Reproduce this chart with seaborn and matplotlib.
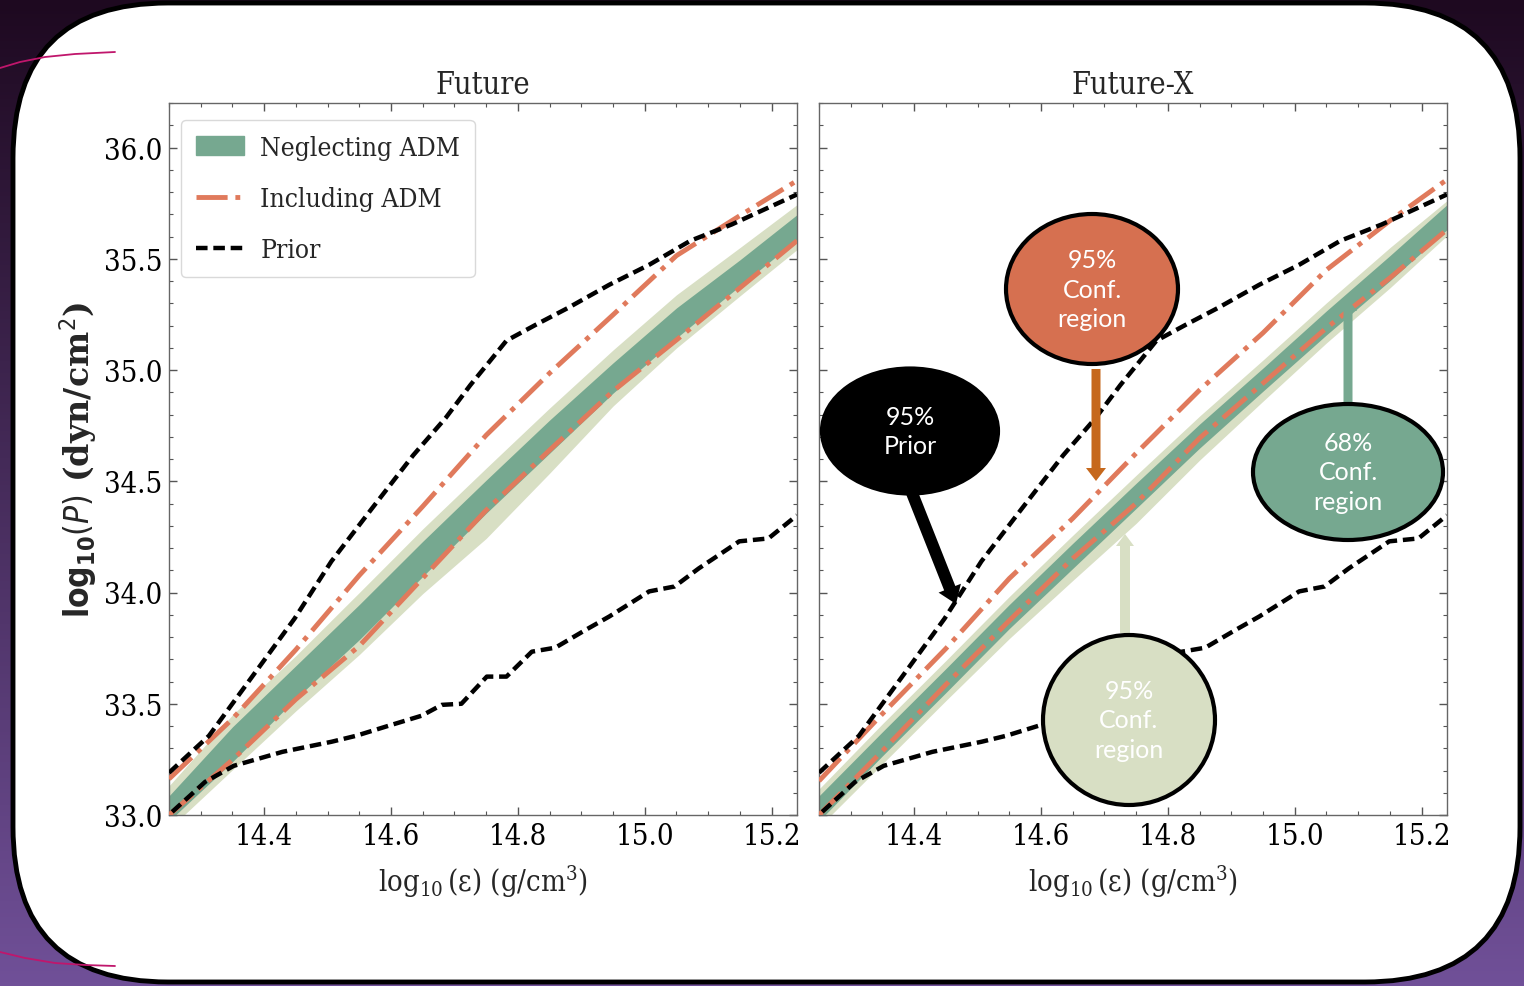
import numpy as np
import matplotlib
matplotlib.use("Agg")
import matplotlib.pyplot as plt
import seaborn as sns
from matplotlib.patches import Ellipse, FancyArrow, FancyBboxPatch, Patch
from matplotlib.lines import Line2D
from matplotlib.ticker import MultipleLocator, FormatStrFormatter

# ---------------------------------------------------------------- data
panel_titles = ["Future", "Future-X"]
eps_grid = [14.25, 14.35, 14.45, 14.55, 14.65, 14.75, 14.85, 14.95, 15.05, 15.15, 15.24]

# Future: neglecting ADM (68% and 95% bands)
fut_95_hi = [33.131, 33.450, 33.716, 34.000, 34.286, 34.559, 34.829, 35.090, 35.338, 35.550, 35.743]
fut_68_hi = [33.086, 33.396, 33.671, 33.946, 34.230, 34.505, 34.775, 35.032, 35.279, 35.495, 35.698]
fut_68_lo = [32.973, 33.239, 33.523, 33.788, 34.072, 34.356, 34.626, 34.896, 35.144, 35.378, 35.586]
fut_95_lo = [32.937, 33.203, 33.468, 33.721, 33.995, 34.243, 34.536, 34.838, 35.099, 35.333, 35.541]
# Future: including ADM (95% bounds)
fut_adm_hi = [33.162, 33.432, 33.743, 34.077, 34.387, 34.707, 34.986, 35.248, 35.514, 35.694, 35.851]
fut_adm_lo = [33.000, 33.248, 33.520, 33.760, 34.065, 34.370, 34.640, 34.905, 35.135, 35.369, 35.581]

# Future-X: neglecting ADM (68% and 95% bands)
fx_95_hi = [33.117, 33.410, 33.694, 33.982, 34.257, 34.527, 34.793, 35.045, 35.302, 35.550, 35.761]
fx_68_hi = [33.086, 33.374, 33.658, 33.946, 34.221, 34.491, 34.757, 35.009, 35.266, 35.514, 35.743]
fx_68_lo = [32.973, 33.266, 33.550, 33.838, 34.108, 34.378, 34.649, 34.905, 35.158, 35.401, 35.631]
fx_95_lo = [32.946, 33.230, 33.514, 33.793, 34.054, 34.311, 34.595, 34.860, 35.122, 35.369, 35.604]
# Future-X: including ADM (95% bounds)
fx_adm_hi = [33.153, 33.455, 33.748, 34.063, 34.333, 34.626, 34.910, 35.167, 35.450, 35.671, 35.856]
fx_adm_lo = [33.000, 33.288, 33.586, 33.874, 34.153, 34.401, 34.694, 34.941, 35.189, 35.414, 35.631]

# Prior 95% bounds (shared by both panels)
prior_hi_eps = [14.25, 14.313, 14.448, 14.506, 14.570, 14.635, 14.686, 14.725, 14.751,
                14.782, 14.828, 14.879, 14.944, 15.007, 15.072, 15.137, 15.240]
prior_hi = [33.19, 33.356, 33.883, 34.14, 34.378, 34.617, 34.784, 34.932, 35.023,
            35.132, 35.203, 35.279, 35.383, 35.473, 35.581, 35.654, 35.789]
prior_lo_eps = [14.255, 14.307, 14.352, 14.429, 14.506, 14.545, 14.596, 14.648, 14.680, 14.711,
                14.751, 14.782, 14.822, 14.859, 14.905, 14.944, 15.007, 15.047, 15.085, 15.149,
                15.195, 15.240]
prior_lo = [33.014, 33.149, 33.221, 33.284, 33.329, 33.356, 33.401, 33.446, 33.495, 33.500,
            33.622, 33.622, 33.734, 33.752, 33.829, 33.892, 34.005, 34.027, 34.108, 34.230,
            34.243, 34.347]

panels = [
    dict(hi95=fut_95_hi, hi68=fut_68_hi, lo68=fut_68_lo, lo95=fut_95_lo,
         adm_hi=fut_adm_hi, adm_lo=fut_adm_lo),
    dict(hi95=fx_95_hi, hi68=fx_68_hi, lo68=fx_68_lo, lo95=fx_95_lo,
         adm_hi=fx_adm_hi, adm_lo=fx_adm_lo),
]

legend_labels = ["Neglecting ADM", "Including ADM", "Prior"]
bubble_texts = ["95%\nConf.\nregion", "95%\nPrior", "68%\nConf.\nregion", "95%\nConf.\nregion"]

# ---------------------------------------------------------------- style
DARK = "#76a890"
LIGHT = "#d8dfc4"
ORANGE = "#e07a5c"
ARROW_ORANGE = "#c6681c"
ADM_LW = 3.5
PRIOR_LW = 3.2
PRIOR_DASH = (0, (2.6, 1.3))

sns.set_theme(style="ticks")
plt.rcParams.update({
    "font.family": ["DejaVu Serif"],
    "font.stretch": "condensed",
    "mathtext.fontset": "custom",
    "mathtext.rm": "DejaVu Serif:stretch=condensed",
    "mathtext.it": "DejaVu Serif:style=italic:stretch=condensed",
    "mathtext.bf": "DejaVu Serif:weight=bold:stretch=condensed",
    "axes.edgecolor": "#666666",
    "axes.linewidth": 1.0,
})

W, H = 1524, 987
fig = plt.figure(figsize=(W / 100, H / 100), dpi=100)

# ---------------------------------------------------------------- slide backdrop
bg = fig.add_axes([0, 0, 1, 1], zorder=0)
bg.set_xlim(0, W)
bg.set_ylim(H, 0)
bg.axis("off")
t = np.linspace(0, 1, 256)[:, None, None]
top_c = np.array([30, 9, 32]) / 255
bot_c = np.array([112, 80, 152]) / 255
bg.imshow(top_c + (bot_c - top_c) * t, extent=(0, W, H, 0), aspect="auto", zorder=0)
bg.add_patch(FancyBboxPatch((13, 4), 1507, 979, boxstyle="round,pad=0,rounding_size=155",
                            fc="white", ec="black", lw=3.5, zorder=1))
bg.plot([0, 20, 45, 75, 115], [69, 63, 58, 55, 53], color="#c0166c", lw=1.3, zorder=2)
bg.plot([0, 25, 55, 85, 115], [953, 959, 964, 966, 967], color="#c0166c", lw=1.3, zorder=2)

# ---------------------------------------------------------------- panels
ax_w, ax_h, ax_b = 628 / W, 712 / H, 171 / H
axes = [fig.add_axes([169 / W, ax_b, ax_w, ax_h], zorder=2),
        fig.add_axes([819 / W, ax_b, ax_w, ax_h], zorder=2)]

for i, (ax, p, title) in enumerate(zip(axes, panels, panel_titles)):
    ax.set_facecolor("white")
    ax.fill_between(eps_grid, p["lo95"], p["hi95"], color=LIGHT, lw=0, zorder=1)
    ax.fill_between(eps_grid, p["lo68"], p["hi68"], color=DARK, lw=0, zorder=2)
    for key in ("adm_hi", "adm_lo"):
        sns.lineplot(x=eps_grid, y=p[key], ax=ax, color=ORANGE, linewidth=ADM_LW,
                     linestyle="-.", sort=False, estimator=None, zorder=3)
    sns.lineplot(x=prior_hi_eps, y=prior_hi, ax=ax, color="black", linewidth=PRIOR_LW,
                 linestyle=PRIOR_DASH, sort=False, estimator=None, zorder=4)
    sns.lineplot(x=prior_lo_eps, y=prior_lo, ax=ax, color="black", linewidth=PRIOR_LW,
                 linestyle=PRIOR_DASH, sort=False, estimator=None, zorder=4)

    ax.set_xlim(14.25, 15.24)
    ax.set_ylim(33.0, 36.2)
    ax.xaxis.set_major_locator(MultipleLocator(0.2))
    ax.xaxis.set_minor_locator(MultipleLocator(0.05))
    ax.yaxis.set_major_locator(MultipleLocator(0.5))
    ax.yaxis.set_minor_locator(MultipleLocator(0.1))
    ax.xaxis.set_major_formatter(FormatStrFormatter("%.1f"))
    ax.yaxis.set_major_formatter(FormatStrFormatter("%.1f"))
    ax.tick_params(which="both", direction="in", top=True, right=True,
                   color="#555555", labelcolor="black")
    ax.tick_params(which="major", length=6, width=1.0, labelsize=21, pad=5)
    ax.tick_params(which="minor", length=3, width=0.8)
    if i == 1:
        ax.tick_params(labelleft=False)
    ax.set_title(title, fontsize=22, pad=7)
    ax.set_xlabel(r"$\log_{10}(\mathrm{ε})$ (g/cm$^3$)", fontsize=21, labelpad=9)
    ax.set_ylabel("")
    for s in ax.spines.values():
        s.set_color("#666666")

axes[0].set_ylabel(r"$\mathbf{log}_{\mathbf{10}}(P)$ (dyn/cm$^2$)", fontsize=24,
                   fontweight="bold", fontstretch="normal",
                   math_fontfamily="dejavusans", labelpad=3)

handles = [Patch(facecolor=DARK, edgecolor=DARK),
           Line2D([], [], color=ORANGE, lw=ADM_LW, ls="-."),
           Line2D([], [], color="black", lw=PRIOR_LW, ls=PRIOR_DASH)]
leg = axes[0].legend(handles, legend_labels, loc="upper left",
                     bbox_to_anchor=(12 / 628, 1 - 17 / 712), borderaxespad=0,
                     fontsize=19, frameon=True, fancybox=True, edgecolor="#d9d9d9",
                     framealpha=1, handlelength=1.85, handletextpad=0.6,
                     borderpad=0.55, labelspacing=1.0)
leg.get_frame().set_linewidth(1.0)

# ---------------------------------------------------------------- call-out bubbles
ov = fig.add_axes([0, 0, 1, 1], zorder=5)
ov.set_xlim(0, W)
ov.set_ylim(H, 0)
ov.axis("off")

arrows = [
    ((1096, 370), (0, 112), 9, 20, 13, ARROW_ORANGE),
    ((912, 494), (44, 111), 12, 24, 17, "black"),
    ((1348, 404), (0, -104), 9, 18, 12, DARK),
    ((1125, 634), (0, -99), 10, 18, 12, LIGHT),
]
for (x0, y0), (dx, dy), w, hw, hl, c in arrows:
    ov.add_patch(FancyArrow(x0, y0, dx, dy, width=w, head_width=hw, head_length=hl,
                            length_includes_head=True, color=c, lw=0, zorder=1))

bubbles = [
    ((1092, 290), 172, 150, "#d67050"),
    ((910, 432), 176, 125, "black"),
    ((1348, 473), 190, 136, DARK),
    ((1129, 721), 172, 170, LIGHT),
]
for ((cx, cy), bw, bh, fc), txt in zip(bubbles, bubble_texts):
    ov.add_patch(Ellipse((cx, cy), bw, bh, fc=fc, ec="black", lw=3, zorder=2))
    ov.text(cx, cy, txt, ha="center", va="center", color="white", fontsize=18,
            family="Lato", fontweight="normal", linespacing=1.35, zorder=3)

fig.savefig("out.png", dpi=100)
